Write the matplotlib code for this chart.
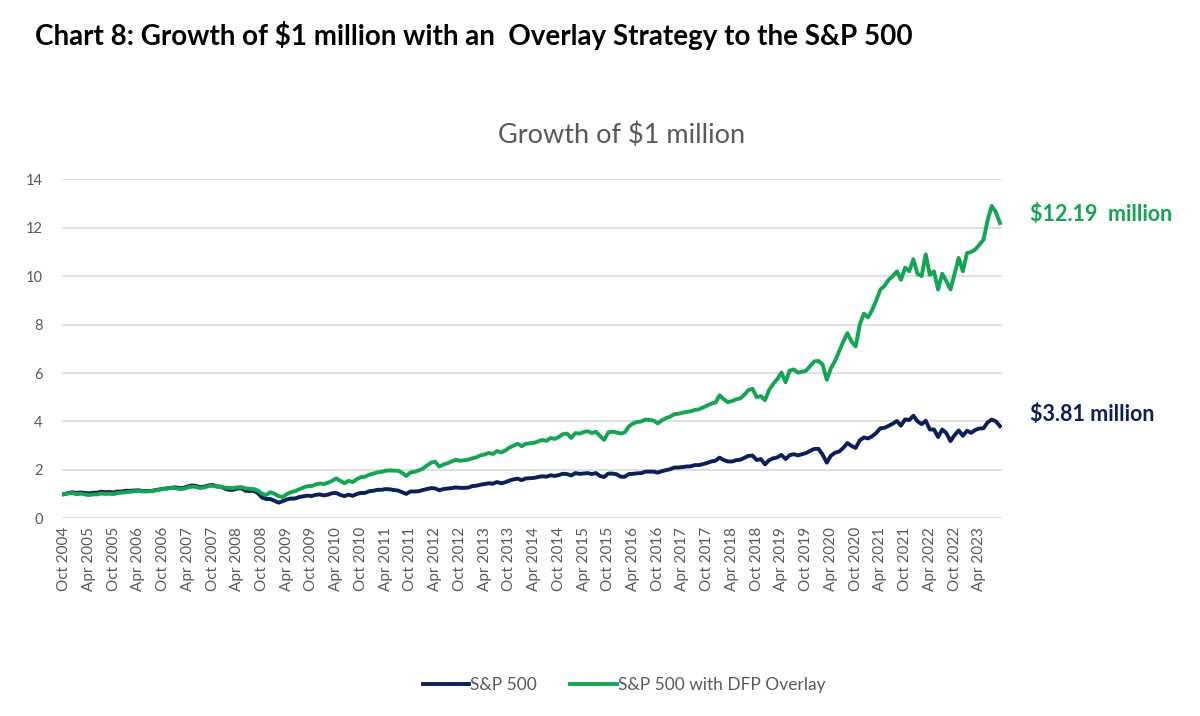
import numpy as np
import matplotlib
matplotlib.use("Agg")
import matplotlib.pyplot as plt

plt.rcParams['font.family'] = ['Lato', 'DejaVu Sans']

# month-end values, Oct 2004 .. Sep 2023 ($ million)
sp500 = [
    1.00, 1.04, 1.08,
    1.05, 1.07, 1.05, 1.03, 1.06, 1.06, 1.10, 1.08, 1.09, 1.07, 1.11, 1.11,
    1.14, 1.14, 1.15, 1.16, 1.13, 1.13, 1.13, 1.16, 1.19, 1.22, 1.24, 1.26,
    1.28, 1.25, 1.26, 1.32, 1.36, 1.34, 1.29, 1.31, 1.36, 1.38, 1.32, 1.31,
    1.23, 1.18, 1.18, 1.23, 1.24, 1.14, 1.13, 1.14, 1.04, 0.86, 0.80, 0.80,
    0.73, 0.65, 0.71, 0.78, 0.82, 0.82, 0.88, 0.91, 0.94, 0.92, 0.97, 0.99,
    0.95, 0.98, 1.04, 1.05, 0.97, 0.92, 0.98, 0.93, 1.01, 1.05, 1.05, 1.12,
    1.14, 1.18, 1.18, 1.21, 1.20, 1.17, 1.15, 1.08, 1.01, 1.11, 1.11, 1.12,
    1.17, 1.21, 1.25, 1.24, 1.16, 1.21, 1.23, 1.25, 1.28, 1.26, 1.26, 1.27,
    1.33, 1.35, 1.39, 1.42, 1.45, 1.43, 1.50, 1.45, 1.49, 1.56, 1.61, 1.64,
    1.58, 1.65, 1.66, 1.67, 1.71, 1.74, 1.72, 1.78, 1.75, 1.79, 1.84, 1.83,
    1.77, 1.87, 1.84, 1.85, 1.87, 1.83, 1.87, 1.75, 1.71, 1.85, 1.85, 1.82,
    1.72, 1.72, 1.83, 1.84, 1.86, 1.87, 1.93, 1.93, 1.93, 1.89, 1.95, 1.99,
    2.03, 2.10, 2.10, 2.12, 2.14, 2.15, 2.20, 2.20, 2.24, 2.29, 2.35, 2.38,
    2.51, 2.41, 2.35, 2.35, 2.40, 2.42, 2.50, 2.58, 2.59, 2.41, 2.45, 2.23,
    2.40, 2.48, 2.52, 2.62, 2.45, 2.61, 2.65, 2.60, 2.65, 2.70, 2.79, 2.87,
    2.87, 2.63, 2.30, 2.59, 2.71, 2.76, 2.91, 3.11, 2.99, 2.91, 3.22, 3.34,
    3.30, 3.39, 3.53, 3.72, 3.74, 3.82, 3.91, 4.02, 3.83, 4.09, 4.06, 4.24,
    4.01, 3.89, 4.03, 3.67, 3.67, 3.36, 3.67, 3.52, 3.19, 3.44, 3.63, 3.41,
    3.62, 3.53, 3.65, 3.71, 3.72, 3.96, 4.08, 4.01, 3.81,
]

overlay = [
    1.00, 1.03, 1.05,
    1.00, 1.02, 0.99, 0.96, 0.99, 0.99, 1.03, 1.01, 1.02, 1.00, 1.05, 1.06,
    1.08, 1.10, 1.12, 1.14, 1.11, 1.11, 1.12, 1.15, 1.18, 1.21, 1.23, 1.25,
    1.25, 1.21, 1.22, 1.28, 1.31, 1.30, 1.25, 1.28, 1.33, 1.35, 1.31, 1.31,
    1.27, 1.25, 1.25, 1.28, 1.29, 1.24, 1.22, 1.21, 1.15, 1.02, 0.96, 1.08,
    1.02, 0.92, 0.88, 1.00, 1.08, 1.12, 1.20, 1.27, 1.33, 1.33, 1.40, 1.44,
    1.42, 1.47, 1.55, 1.65, 1.55, 1.45, 1.55, 1.50, 1.62, 1.70, 1.72, 1.80,
    1.85, 1.90, 1.92, 1.97, 1.98, 1.97, 1.97, 1.88, 1.75, 1.90, 1.92, 1.98,
    2.05, 2.18, 2.30, 2.34, 2.14, 2.22, 2.28, 2.35, 2.42, 2.38, 2.40, 2.42,
    2.48, 2.52, 2.60, 2.64, 2.70, 2.66, 2.78, 2.72, 2.80, 2.92, 3.00, 3.08,
    2.98, 3.08, 3.10, 3.12, 3.18, 3.24, 3.20, 3.32, 3.28, 3.36, 3.48, 3.50,
    3.32, 3.52, 3.50, 3.56, 3.60, 3.52, 3.58, 3.40, 3.24, 3.55, 3.58, 3.55,
    3.50, 3.55, 3.80, 3.92, 3.98, 4.00, 4.08, 4.06, 4.04, 3.92, 4.05, 4.14,
    4.20, 4.30, 4.32, 4.36, 4.40, 4.42, 4.48, 4.50, 4.58, 4.66, 4.74, 4.78,
    5.08, 4.92, 4.80, 4.84, 4.92, 4.95, 5.10, 5.30, 5.35, 5.00, 5.05, 4.88,
    5.30, 5.55, 5.75, 6.02, 5.62, 6.10, 6.15, 6.02, 6.05, 6.10, 6.30, 6.48,
    6.50, 6.35, 5.72, 6.20, 6.50, 6.90, 7.30, 7.65, 7.30, 7.10, 8.00, 8.45,
    8.30, 8.60, 9.00, 9.45, 9.60, 9.85, 10.00, 10.20, 9.85, 10.35, 10.20, 10.70,
    10.10, 10.00, 10.90, 10.05, 10.20, 9.45, 10.10, 9.80, 9.45, 10.10, 10.75, 10.20,
    10.95, 11.00, 11.10, 11.30, 11.50, 12.30, 12.90, 12.65, 12.19,
]

tick_labels = []
for y in range(2004, 2024):
    tick_labels += ["Apr " + str(y), "Oct " + str(y)]
tick_labels = tick_labels[1:-1]  # Oct 2004 .. Apr 2023

navy = "#0c1f5b"
green = "#13a551"
grey = "#595959"

fig = plt.figure(figsize=(12, 7.16), dpi=100)
ax = fig.add_axes([0.0517, 0.276, 0.7833, 0.4736])

x = np.arange(len(sp500))
ax.plot(x, sp500, color=navy, lw=2.8, label="S&P 500", solid_joinstyle="round")
ax.plot(x, overlay, color=green, lw=2.8, label="S&P 500 with DFP Overlay",
        solid_joinstyle="round")

ax.set_ylim(0, 14)
ax.set_yticks(range(0, 15, 2))
ax.set_xlim(-0.5, len(sp500) - 0.5)
ax.set_xticks(np.arange(0, len(tick_labels) * 6, 6))
ax.set_xticklabels(tick_labels, rotation=90, fontsize=11, color=grey)
ax.tick_params(axis="y", labelsize=10.5, colors=grey, pad=14)
ax.tick_params(length=0)
ax.tick_params(axis="x", pad=6)
for s in ax.spines.values():
    s.set_visible(False)
ax.grid(axis="y", color="#d9d9d9", lw=1.2)
ax.set_axisbelow(True)

ax.text(1.03, 12.53, "$12.19  million", transform=ax.get_yaxis_transform(),
        color=green, fontsize=15.5, fontweight="bold", va="center")
ax.text(1.03, 4.27, "$3.81 million", transform=ax.get_yaxis_transform(),
        color=navy, fontsize=15.5, fontweight="bold", va="center")

fig.text(0.029, 0.951, "Chart 8: Growth of $1 million with an  Overlay Strategy to the S&P 500",
         fontsize=20, fontweight="bold", color="black", va="center")
fig.text(0.518, 0.811, "Growth of $1 million", fontsize=19.5, color=grey,
         ha="center", va="center")

fig.legend(loc="center", bbox_to_anchor=(0.52, 0.043), ncol=2, frameon=False,
           fontsize=12.5, labelcolor=grey, handlelength=2.7, handletextpad=0.05,
           columnspacing=1.9)

fig.savefig("out.png", dpi=100)
